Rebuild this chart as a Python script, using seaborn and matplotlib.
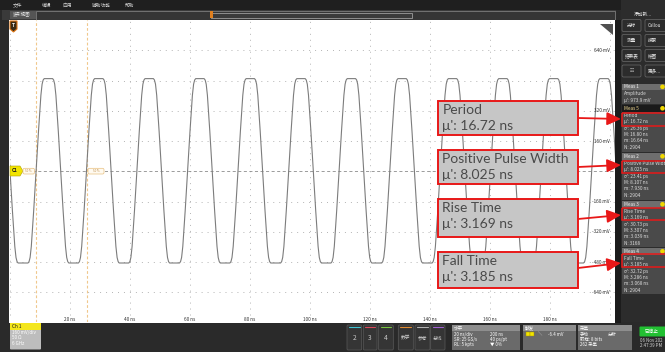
import matplotlib
matplotlib.use("Agg")
import matplotlib.pyplot as plt
import seaborn as sns
import pandas as pd
from matplotlib.patches import Rectangle, FancyBboxPatch, Polygon

W, H = 665, 352

# ---------------- data ----------------
fall_cross_ns = [0.0, 16.9, 33.7, 50.5, 67.4, 84.2, 101.1, 117.9, 134.8, 151.6, 168.4, 185.3, 202.1]
rise_cross_ns = [8.7, 25.5, 42.3, 59.2, 76.0, 92.9, 109.7, 126.6, 143.4, 160.2, 177.1, 193.9]
high_mv = 490
low_mv = -485
edge_offset_ns = [-2.7, -2.35, -2.0, -1.6, -0.8, 0.0, 0.8, 1.6, 2.0, 2.35, 2.7]
edge_fraction = [-1.0, -0.985, -0.94, -0.82, -0.43, 0.0, 0.43, 0.82, 0.94, 0.985, 1.0]

x_ticks_ns = [20, 40, 60, 80, 100, 120, 140, 160, 180]
x_tick_labels = ["20 ns", "40 ns", "60 ns", "80 ns", "100 ns", "120 ns", "140 ns", "160 ns", "180 ns"]
grid_ns = [0, 20, 40, 60, 80, 100, 120, 140, 160, 180, 200]
grid_mv = [640, 480, 320, 160, -160, -320, -480, -640]
y_label_mv = [640, 320, 160, -160, -320, -480, -640]
y_label_text = ["640 mV", "320 mV", "160 mV", "-160 mV", "-320 mV", "-480 mV", "-640 mV"]
cursor_ns = [8.7, 25.6]

callout_titles = ["Period", "Positive Pulse Width", "Rise Time", "Fall Time"]
callout_values = ["\u03bc': 16.72 ns", "\u03bc': 8.025 ns", "\u03bc': 3.169 ns", "\u03bc': 3.185 ns"]

meas_names = ["Meas 1", "Meas 5", "Meas 2", "Meas 3", "Meas 4"]
meas_lines = [
    ["Amplitude", "\u03bc': 973.9 mV"],
    ["Period", "\u03bc': 16.72 ns", "\u03c3': 26.36 ps", "M: 16.80 ns", "m: 16.64 ns", "N: 2904"],
    ["Positive Pulse Widt", "\u03bc': 8.025 ns", "\u03c3': 23.41 ps", "M: 8.107 ns", "m: 7.930 ns", "N: 2904"],
    ["Rise Time", "\u03bc': 3.169 ns", "\u03c3': 30.73 ps", "M: 3.307 ns", "m: 3.039 ns", "N: 3168"],
    ["Fall Time", "\u03bc': 3.185 ns", "\u03c3': 32.72 ps", "M: 3.286 ns", "m: 3.068 ns", "N: 2904"],
]
menu_items = ["文件", "编辑", "应用", "辅助功能", "帮助"]
side_buttons = [["光标", "Callou"], ["测量", "搜索"], ["结果表", "绘图"], ["\u2637", "更多..."]]
ch_buttons = ["2", "3", "4", "数学", "参考", "总线"]
ch_button_colors = ["#3fc3d3", "#d8485a", "#78c440", "#e08a30", "#b0b0b0", "#a060d0"]
ch1_lines = ["160 mV/div", "50 \u03a9", "6 GHz"]
horiz_lines = [("20 ns/div", "200 ns"), ("SR: 25 GS/s", "40 ps/pt"), ("RL: 5 kpts", "\u25bc 0%")]
acq_lines = [("手动", "分析"), ("取样: 8 bits", ""), ("262 采集", "")]

# ---------------- build trace vertices ----------------
mid = (high_mv + low_mv) / 2
half = (high_mv - low_mv) / 2
pts = []
for tc in fall_cross_ns:
    for o, f in zip(edge_offset_ns, edge_fraction):
        pts.append((tc + o, mid - f * half))
for tc in rise_cross_ns:
    for o, f in zip(edge_offset_ns, edge_fraction):
        pts.append((tc + o, mid + f * half))
pts.sort()
df = pd.DataFrame(pts, columns=["t_ns", "v_mv"])

# ---------------- figure ----------------
sns.set_style("white")
plt.rcParams["font.family"] = ["Noto Sans CJK SC", "DejaVu Sans"]
plt.rcParams["lines.scale_dashes"] = False

fig = plt.figure(figsize=(W / 100, H / 100), dpi=100)
bg = fig.add_axes([0, 0, 1, 1], zorder=0)
bg.set_xlim(0, W); bg.set_ylim(H, 0); bg.axis("off")
ov = fig.add_axes([0, 0, 1, 1], zorder=3)
ov.set_xlim(0, W); ov.set_ylim(H, 0); ov.axis("off"); ov.patch.set_alpha(0)

def rect(ax, x0, y0, x1, y1, fc, ec="none", lw=0, z=1, round_=0):
    if round_:
        p = FancyBboxPatch((x0, y0), x1 - x0, y1 - y0, boxstyle=f"round,pad=0,rounding_size={round_}",
                           fc=fc, ec=ec, lw=lw, zorder=z)
    else:
        p = Rectangle((x0, y0), x1 - x0, y1 - y0, fc=fc, ec=ec, lw=lw, zorder=z)
    ax.add_patch(p)
    return p

def txt(ax, x, y, s, fs=3.6, c="#e0e0e0", ha="left", va="center", z=5, **kw):
    return ax.text(x, y, s, fontsize=fs, color=c, ha=ha, va=va, zorder=z, **kw)

# background frame
rect(bg, 0, 0, W, H, "#2a2a2a")
rect(bg, 0, 0, W, 9.5, "#1f1f1f")
for s, x in zip(menu_items, [13, 42, 63, 92, 125]):
    txt(bg, x, 5, s, fs=3.4, c="#d0d0d0")
rect(bg, 2, 9.5, 616, 20, "#3a3a3a")
rect(bg, 36, 10.5, 615, 19.5, "#353535", ec="#8a8a8a", lw=0.5)
rect(bg, 211, 12.5, 412, 17.5, "#3a3a3a", ec="#b0b0b0", lw=0.5)
rect(bg, 10, 11, 36, 19, "#555555")
txt(bg, 13, 15, "波形视图", fs=3.2, c="#e8e8e8")
rect(bg, 209.5, 11, 213, 18, "#e08020")
rect(bg, 9, 20, 616, 322.5, "white")

# ---------------- main scope axes ----------------
ax = fig.add_axes([10 / W, 1 - 322 / H, 605 / W, 302 / H], zorder=1)
ax.set_xlim(0, 605 / 3)
ax.set_ylim(-797, 800)
ax.set_facecolor("white")
for sp in ax.spines.values():
    sp.set_visible(False)
ax.set_xticks([]); ax.set_yticks([])

ax.vlines(grid_ns, -762, 800, colors="#b4b4b4", lw=0.7, linestyles=[(0, (0.7, 3.6))], zorder=1)
ax.hlines(grid_mv, 0, 605 / 3, colors="#b4b4b4", lw=0.7, linestyles=[(0, (0.7, 3.6))], zorder=1)
ax.axhline(0, color="#8c8c8c", lw=0.6, ls=(0, (2.2, 1.8)), zorder=1)
ax.vlines(cursor_ns, -797, 800, colors="#f0c88c", lw=0.8, linestyles=[(0, (2.0, 1.5))], zorder=1)

sns.lineplot(data=df, x="t_ns", y="v_mv", ax=ax, color="#7c7c7c", lw=0.8,
             sort=False, estimator=None, zorder=3)
ax.set_xlabel(""); ax.set_ylabel("")

for t, s in zip(x_ticks_ns, x_tick_labels):
    ax.text(t, -783, s, fontsize=3.4, color="#333333", ha="center", va="center", zorder=4)
for v, s in zip(y_label_mv, y_label_text):
    ax.text(200.0, v, s, fontsize=3.4, color="#333333", ha="right", va="center", zorder=4)

ov.add_patch(Polygon([(10, 166), (20, 166), (23, 171), (20, 176), (10, 176)], closed=True,
                     fc="#f2e400", ec="#b0a000", lw=0.4, zorder=4))
txt(ov, 15, 171, "C1", fs=3.4, c="#202020", ha="center", fontweight="bold")
for x0, x1 in [(23, 34.5), (88, 104)]:
    rect(ov, x0, 168.3, x1, 174, "#fffaf0", ec="#e8c080", lw=0.5, z=4, round_=1.5)
    txt(ov, (x0 + x1) / 2, 171.2, "50 %", fs=2.2, c="#c09050", ha="center")
ov.add_patch(Polygon([(10, 21), (17, 21), (17, 29), (13.5, 32), (10, 29)], closed=True,
                     fc="#3a2a14", ec="#e07818", lw=0.8, zorder=4))
txt(ov, 13.5, 25.5, "T", fs=3.5, c="#f0f0f0", ha="center", fontweight="bold")
ov.add_patch(Polygon([(600, 23.5), (613, 23.5), (613, 35)], closed=True, fc="#505050", ec="none", zorder=4))

# ---------------- right panel ----------------
rect(bg, 615, 20, 621, H, "#1c1c1c", z=2)
rect(bg, 621, 0, W, 322, "#2c2c2c", z=2)
txt(bg, 643, 14, "添加新...", fs=3.4, c="#e6e6e6", ha="center")
for (a, b), y in zip(side_buttons, [25.5, 40.5, 55.5, 71]):
    rect(bg, 622, y - 6, 641, y + 6, "#2c2c2c", ec="#6a6a6a", lw=0.5, z=3, round_=1.5)
    rect(bg, 645, y - 6, 667, y + 6, "#2c2c2c", ec="#6a6a6a", lw=0.5, z=3, round_=1.5)
    txt(bg, 631.5, y, a, fs=3.3, c="#e6e6e6", ha="center")
    txt(bg, 647.5, y, b, fs=3.3, c="#e6e6e6")

meas_tops = [83.5, 105, 153, 201, 248]
meas_bottoms = [104, 151.5, 199.5, 246.5, 294]
for i, (name, lines) in enumerate(zip(meas_names, meas_lines)):
    y0, y1 = meas_tops[i], meas_bottoms[i]
    hc = "#1a1a1a" if name == "Meas 5" else "#6e6e6e"
    rect(bg, 621.5, y0, 666, y1, "#4a4a4a", z=3)
    rect(bg, 621.5, y0, 666, y0 + 6.5, hc, z=3)
    txt(bg, 623.5, y0 + 3.3, name, fs=3.4, c="#f0d890" if name == "Meas 5" else "#f0f0f0")
    bg.add_patch(plt.Circle((662.5, y0 + 3.3), 1.6, color="#f0d800", zorder=4))
    for j, s in enumerate(lines):
        t = txt(bg, 623.5, y0 + 10.5 + j * 6.35, s, fs=3.4, c="#dcdcdc")
        t.set_clip_on(True)

red_boxes = [(112.7, 125.7), (160.7, 172.7), (207.7, 220.0), (254.0, 266.7)]
for y0, y1 in red_boxes:
    rect(ov, 621.8, y0, 667, y1, "none", ec="#e81818", lw=1.1, z=6)

# ---------------- bottom panel ----------------
rect(bg, 0, 322.5, W, H, "#2a2a2a", z=2)
rect(bg, 10, 323, 41, 349.5, "#bdbdbd", z=3, round_=1)
rect(bg, 10, 323, 41, 330, "#f4e61c", z=3)
txt(bg, 11.5, 326.7, "Ch 1", fs=3.4, c="#202020")
for j, s in enumerate(ch1_lines):
    txt(bg, 11.5, 332.5 + j * 5.3, s, fs=3.3, c="#ffffff")

btn_x = [(347, 361.7), (363.3, 377), (378.5, 393.3), (398.3, 413.3), (415, 430), (430.7, 445)]
for (x0, x1), s, c in zip(btn_x, ch_buttons, ch_button_colors):
    rect(bg, x0, 325, x1, 350, "#353535", ec="#5a5a5a", lw=0.5, z=3, round_=1.2)
    bg.plot([x0 + 2, x1 - 2], [326.8, 326.8], color=c, lw=0.8, zorder=4)
    txt(bg, (x0 + x1) / 2, 338, s, fs=4.8 if len(s) == 1 else 3.4, c="#c8c8c8", ha="center")

rect(bg, 452, 325, 520, 350, "#6a6a6a", z=3)
rect(bg, 452, 325, 520, 331, "#8e8e8e", z=3)
txt(bg, 454, 328, "水平", fs=3.3, c="#ffffff")
for j, (a, b) in enumerate(horiz_lines):
    txt(bg, 454, 334.3 + j * 4.9, a, fs=3.2, c="#ffffff")
    txt(bg, 490, 334.3 + j * 4.9, b, fs=3.2, c="#ffffff")
rect(bg, 523, 325, 576, 350, "#6a6a6a", z=3)
rect(bg, 523, 325, 576, 331, "#8e8e8e", z=3)
txt(bg, 525, 328, "触发", fs=3.3, c="#ffffff")
rect(bg, 526, 332, 529.5, 336, "#f2e400", ec="#a09000", lw=0.3, z=4)
rect(bg, 530, 332, 533.5, 336, "#f2e400", ec="#a09000", lw=0.3, z=4)
txt(bg, 538, 334, "\u2572", fs=3.0, c="#ffffff")
txt(bg, 548, 334, "-6.4 mV", fs=3.2, c="#ffffff")
rect(bg, 578, 325, 632, 350, "#6a6a6a", z=3)
rect(bg, 578, 325, 632, 331, "#8e8e8e", z=3)
txt(bg, 580, 328, "采集", fs=3.3, c="#ffffff")
for j, (a, b) in enumerate(acq_lines):
    txt(bg, 580, 334.3 + j * 4.9, a, fs=3.2, c="#ffffff")
    if b:
        txt(bg, 608, 334.3 + j * 4.9, b, fs=3.2, c="#ffffff")
rect(bg, 639.5, 326.5, 667, 336.5, "#22c032", z=3, round_=1)
txt(bg, 652, 331.5, "已停止", fs=3.3, c="#ffffff", ha="center")
txt(bg, 640, 340.5, "06 Nov 202", fs=3.2, c="#d0d0d0")
txt(bg, 640, 345.5, "2:47:39 PM", fs=3.2, c="#d0d0d0")

# ---------------- callout boxes + arrows ----------------
box_y = [(101, 135), (150, 184), (199, 237), (252, 287.5)]
arrow_from = [(578, 118), (578, 167), (578, 219), (578, 268)]
arrow_to = [(621, 119), (621, 165), (621, 215), (621, 263)]
for (y0, y1), t, v, a0, a1 in zip(box_y, callout_titles, callout_values, arrow_from, arrow_to):
    rect(ov, 437.5, y0, 578.3, y1, "#c6c6c6", ec="#e81818", lw=1.4, z=5)
    ov.text(442.5, y0 + 12.7, t, fontsize=10.0, color="#4a4a4a", family=["Lato", "DejaVu Sans"],
            ha="left", va="baseline", zorder=6)
    ov.text(442.5, y0 + 29.3, v, fontsize=10.0, color="#4a4a4a", family=["Lato", "DejaVu Sans"],
            ha="left", va="baseline", zorder=6)
    ov.annotate("", xy=a1, xytext=a0,
                arrowprops=dict(arrowstyle="-|>,head_length=0.6,head_width=0.28",
                                mutation_scale=14, color="#e81818", lw=1.3,
                                shrinkA=0, shrinkB=0), zorder=7)

fig.savefig("out.png", dpi=100)
